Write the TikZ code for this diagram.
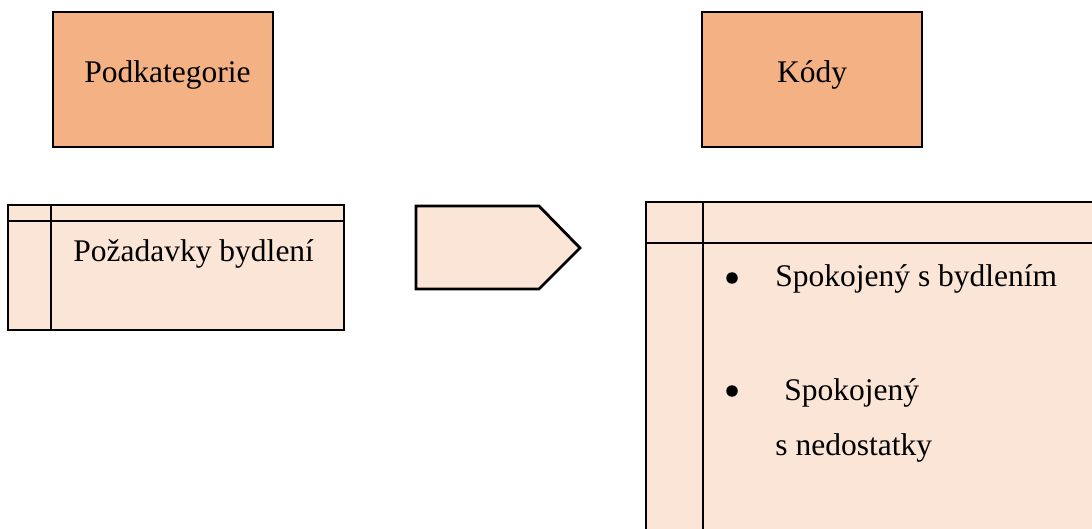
\documentclass[tikz,border=0pt]{standalone}
\usepackage{fontspec}
\setmainfont{Liberation Serif}
\definecolor{orangebox}{HTML}{F4B183}
\definecolor{paleorange}{HTML}{FBE5D6}
\begin{document}
\begin{tikzpicture}[x=1pt,y=-1pt,
  line width=2.8pt, line join=miter,
  txt/.style={font=\fontsize{31.5}{38}\selectfont, inner sep=0pt, anchor=base west},
  headbox/.style={draw=black, fill=orangebox, minimum width=220pt, minimum height=135pt, inner sep=0pt},
  tablebox/.style={draw=black, fill=paleorange},
  bulletdot/.style={circle, fill=black, draw=none, minimum size=11.5pt, inner sep=0pt}]
\useasboundingbox (0,0) rectangle (1092,529);
\clip (0,0) rectangle (1092,529);
% top header boxes
\node[headbox] (podk) at (163,79.5) {};
\node[txt] (podkt) at (83,83) {Podkategorie};
\node[headbox] (kody) at (812,79.5) {};
\node[txt, anchor=base] (kodyt) at (812,83) {Kódy};
% left table
\draw[tablebox] (8,205) rectangle (344,330);
\draw (51,205) -- (51,330);
\draw (8,221) -- (344,221);
\node[txt] (pozad) at (72,262) {Požadavky bydlení};
% pentagon arrow
\draw[tablebox] (416,206) -- (539,206) -- (580,248) -- (539,289) -- (416,289) -- cycle;
% right table
\draw[tablebox] (646,202) rectangle (1110,560);
\draw (703,202) -- (703,560);
\draw (646,243) -- (1110,243);
\node[bulletdot] (b1) at (732,278) {};
\node[txt] (k1) at (774,287) {Spokojený s bydlením};
\node[bulletdot] (b2) at (732,391) {};
\node[txt] (k2) at (783,400) {Spokojený};
\node[txt] (k3) at (774,455) {s nedostatky};
\end{tikzpicture}
\end{document}
